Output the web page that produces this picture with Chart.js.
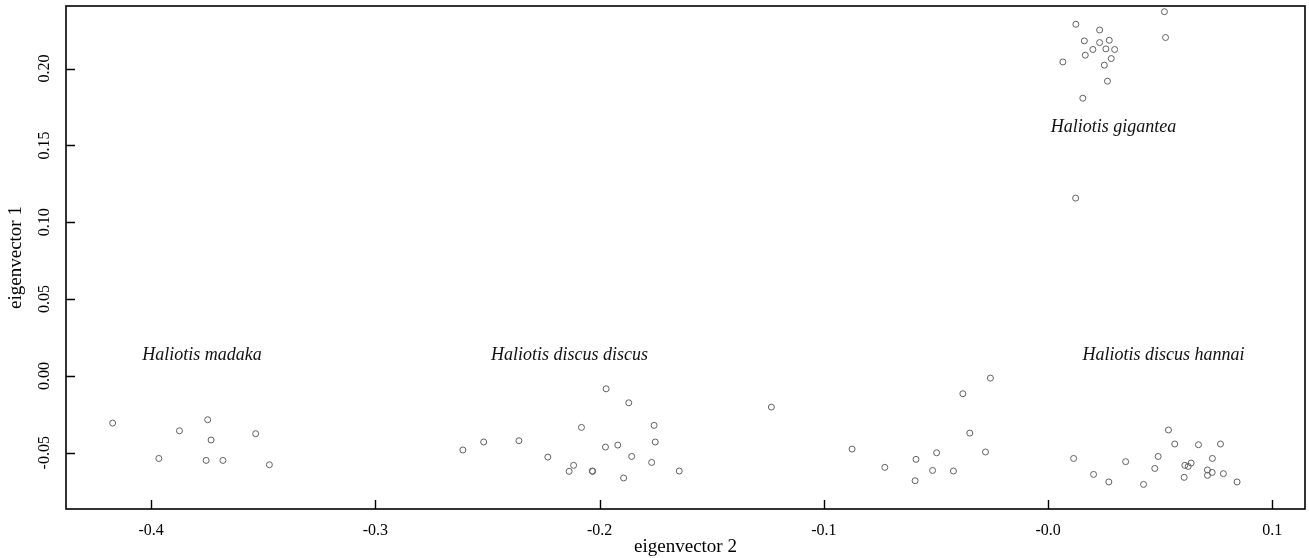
<!DOCTYPE html>
<html>
<head>
<meta charset="utf-8">
<script src="https://cdn.jsdelivr.net/npm/chart.js@4.4.1/dist/chart.umd.min.js"></script>
<style>
  html, body { margin: 0; padding: 0; background: #fff; }
  #wrap { width: 1309px; height: 558px; position: relative; }
</style>
</head>
<body>
<div id="wrap"><canvas id="pca"></canvas></div>
<script>
// eigenvector 2 (x) / eigenvector 1 (y), one pair of arrays per group
const madakaX = [-0.4172, -0.3748, -0.3874, -0.3534, -0.3733, -0.3966, -0.3755, -0.3680, -0.3473];
const madakaY = [-0.0307, -0.0285, -0.0357, -0.0376, -0.0417, -0.0537, -0.0550, -0.0550, -0.0578];

const discusX = [-0.1971, -0.1870, -0.2081, -0.1757, -0.2610, -0.2517, -0.2360, -0.1752, -0.1974, -0.1919,
                 -0.2231, -0.1857, -0.1768, -0.2116, -0.2136, -0.2033, -0.2031, -0.1893, -0.1645];
const discusY = [-0.0084, -0.0175, -0.0335, -0.0322, -0.0482, -0.0430, -0.0422, -0.0430, -0.0463, -0.0450,
                 -0.0528, -0.0524, -0.0563, -0.0582, -0.0621, -0.0619, -0.0621, -0.0664, -0.0619];

const middleX = [-0.0257, -0.0380, -0.1234, -0.0349, -0.0874, -0.0279, -0.0497, -0.0589, -0.0728, -0.0515, -0.0422, -0.0593];
const middleY = [-0.0014, -0.0116, -0.0203, -0.0372, -0.0476, -0.0495, -0.0500, -0.0543, -0.0595, -0.0615, -0.0619, -0.0682];

const hannaiX = [0.0537, 0.0565, 0.0671, 0.0769, 0.0114, 0.0491, 0.0733, 0.0346, 0.0476, 0.0610, 0.0625,
                 0.0638, 0.0711, 0.0732, 0.0711, 0.0782, 0.0607, 0.0203, 0.0271, 0.0426, 0.0843];
const hannaiY = [-0.0352, -0.0443, -0.0448, -0.0443, -0.0537, -0.0524, -0.0537, -0.0558, -0.0602, -0.0582, -0.0589,
                 -0.0567, -0.0612, -0.0628, -0.0647, -0.0636, -0.0660, -0.0641, -0.0690, -0.0706, -0.0690];

const giganteaX = [0.0124, 0.0230, 0.0519, 0.0162, 0.0230, 0.0273, 0.0524, 0.0200, 0.0258, 0.0297,
                   0.0166, 0.0282, 0.0066, 0.0251, 0.0265, 0.0155, 0.0123];
const giganteaY = [0.2288, 0.2251, 0.2370, 0.2180, 0.2169, 0.2184, 0.2202, 0.2124, 0.2128, 0.2124,
                   0.2087, 0.2065, 0.2043, 0.2022, 0.1918, 0.1807, 0.1157];

const xTickValues = [-0.4, -0.3, -0.2, -0.1, 0, 0.1];
const xTickLabels = ['-0.4', '-0.3', '-0.2', '-0.1', '-0.0', '0.1'];
const yTickValues = [-0.05, 0, 0.05, 0.1, 0.15, 0.2];
const yTickLabels = ['-0.05', '0.00', '0.05', '0.10', '0.15', '0.20'];

const groupNames = ['Haliotis madaka', 'Haliotis discus discus', 'Haliotis discus hannai', 'Haliotis gigantea'];
const groupLabelX = [-0.3773, -0.2134, 0.0515, 0.0292];
const groupLabelY = [0.0137, 0.0137, 0.0137, 0.1619];

const allX = [].concat(madakaX, discusX, middleX, hannaiX, giganteaX);
const allY = [].concat(madakaY, discusY, middleY, hannaiY, giganteaY);

const SERIF = '"Liberation Serif", "Times New Roman", serif';
Chart.defaults.font.family = SERIF;
Chart.defaults.color = '#000';

const framePlugin = {
  id: 'frame',
  afterDraw(chart) {
    const { ctx, chartArea: a, scales: { x, y } } = chart;
    ctx.save();
    ctx.strokeStyle = '#000';
    ctx.lineWidth = 1.6;
    ctx.strokeRect(a.left, a.top, a.right - a.left, a.bottom - a.top);
    // inward tick marks
    ctx.lineWidth = 1.4;
    ctx.beginPath();
    xTickValues.forEach(v => {
      const px = Math.round(x.getPixelForValue(v)) + 0.5;
      ctx.moveTo(px, a.bottom);
      ctx.lineTo(px, a.bottom - 9);
    });
    yTickValues.forEach(v => {
      const py = Math.round(y.getPixelForValue(v)) + 0.5;
      ctx.moveTo(a.left, py);
      ctx.lineTo(a.left + 9, py);
    });
    ctx.stroke();
    // rotated y tick labels
    ctx.fillStyle = '#000';
    ctx.font = '16px ' + SERIF;
    ctx.textAlign = 'center';
    ctx.textBaseline = 'middle';
    yTickValues.forEach((v, i) => {
      ctx.save();
      ctx.translate(45, y.getPixelForValue(v));
      ctx.rotate(-Math.PI / 2);
      ctx.fillText(yTickLabels[i], 0, 0);
      ctx.restore();
    });
    // species names
    ctx.font = 'italic 18px ' + SERIF;
    ctx.fillStyle = '#111';
    groupNames.forEach((t, i) => {
      ctx.fillText(t, x.getPixelForValue(groupLabelX[i]), y.getPixelForValue(groupLabelY[i]));
    });
    ctx.restore();
  }
};

new Chart(document.getElementById('pca'), {
  type: 'scatter',
  data: {
    datasets: [{
      data: allX.map((v, i) => ({ x: v, y: allY[i] })),
      pointStyle: 'circle',
      pointRadius: 3,
      pointHoverRadius: 3,
      pointBorderWidth: 1,
      borderColor: '#606060',
      backgroundColor: 'rgba(0,0,0,0)'
    }]
  },
  options: {
    responsive: true,
    maintainAspectRatio: false,
    animation: false,
    events: [],
    layout: { padding: { top: 6, right: 2, left: 0, bottom: 0 } },
    plugins: { legend: { display: false }, tooltip: { enabled: false } },
    scales: {
      x: {
        type: 'linear',
        min: -0.438,
        max: 0.1146,
        afterBuildTicks: s => { s.ticks = xTickValues.map(v => ({ value: v })); },
        afterFit: s => { s.height = 49; },
        grid: { display: false, drawTicks: false },
        border: { display: false },
        ticks: {
          font: { size: 16 },
          padding: 12,
          maxRotation: 0,
          callback: v => xTickLabels[xTickValues.indexOf(v)]
        },
        title: { display: true, text: 'eigenvector 2', font: { size: 19 }, padding: { top: 0, bottom: 0 } }
      },
      y: {
        type: 'linear',
        min: -0.0866,
        max: 0.2407,
        afterBuildTicks: s => { s.ticks = yTickValues.map(v => ({ value: v })); },
        afterFit: s => { s.width = 66; },
        grid: { display: false, drawTicks: false },
        border: { display: false },
        ticks: { display: false },
        title: { display: true, text: 'eigenvector 1', font: { size: 19 }, padding: { top: 5, bottom: 0 } }
      }
    }
  },
  plugins: [framePlugin]
});
</script>
</body>
</html>
